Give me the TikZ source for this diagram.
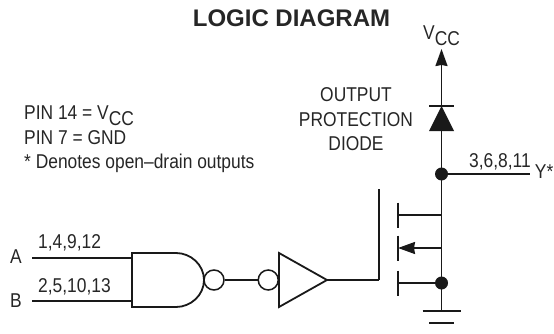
\documentclass[tikz,border=0pt]{standalone}
\usepackage{fontspec}
\setmainfont{Liberation Sans}
\newfontfamily\narrowfont[FakeStretch=0.87]{Liberation Sans}
\usetikzlibrary{positioning,arrows.meta}
\newcommand{\vcc}{V\raisebox{-6pt}{CC}}
\tikzset{
    wire/.style={line width=1.8pt,color=black!90},
    tip/.style={-{Stealth[length=17pt,width=12pt,inset=1pt]}},
    dot/.style={circle,fill=black!90,inner sep=0pt,minimum size=13pt},
    bubble/.style={circle,draw=black!90,line width=1.5pt,inner sep=0pt,minimum size=20pt},
    lbl/.style={font=\narrowfont\fontsize{20}{20}\selectfont,inner sep=0pt,text=black!85},
}
\begin{document}
\begin{tikzpicture}[x=1pt,y=1pt]
        \useasboundingbox (0,0) rectangle (554,333);
        % output side
        \coordinate (out_node) at (441.5,159);
        \coordinate [above = 125pt of out_node] (vcc_tip);
        \coordinate [above = 43pt of out_node] (diode_base);
        \coordinate [above = 68pt of out_node] (diode_bar);
        \coordinate [right = 88.5pt of out_node] (y_end);
        \coordinate [below = 41pt of out_node] (drain_in);
        \coordinate [below = 74pt of out_node] (body_in);
        \coordinate [below = 109pt of out_node] (src_node);
        \coordinate [below = 137pt of out_node] (gnd_top);
        \coordinate [below = 149pt of out_node] (gnd_low);
        \draw[wire,tip] (out_node) -- (vcc_tip);
        \draw[wire] ([xshift=-12.5pt]diode_bar) -- ([xshift=12.5pt]diode_bar);
        \fill[black!90] ([xshift=-12.5pt]diode_base) -- ([xshift=12.5pt]diode_base) -- (diode_bar) -- cycle;
        \draw[wire] (out_node) -- (y_end);
        \draw[wire] (out_node) -- (gnd_top);
        \node[dot] (out_dot) at (out_node) {};
        \node[dot] (src_dot) at (src_node) {};
        \draw[wire] ([xshift=-19pt]gnd_top) -- ([xshift=19pt]gnd_top);
        \draw[wire] ([xshift=-12.5pt]gnd_low) -- ([xshift=12.5pt]gnd_low);
        % transistor
        \coordinate [left = 43.5pt of drain_in] (drain_ch);
        \coordinate [left = 43.5pt of body_in] (body_ch);
        \coordinate [left = 43.5pt of src_node] (src_ch);
        \coordinate (gate_in) at (379,53);
        \coordinate [above = 91pt of gate_in] (gate_top);
        \draw[wire] ([yshift=12.5pt]drain_ch) -- ([yshift=-12.5pt]drain_ch);
        \draw[wire] ([yshift=12.5pt]body_ch) -- ([yshift=-12.5pt]body_ch);
        \draw[wire] ([yshift=12.5pt]src_ch) -- ([yshift=-12.5pt]src_ch);
        \draw[wire] (drain_ch) -- (drain_in);
        \draw[wire] (src_ch) -- (src_node);
        \draw[wire,tip] (body_in) -- (body_ch);
        \draw[wire] (gate_top) -- (gate_in);
        % gate and inverter
        \coordinate (nand_nw) at (132,80);
        \coordinate [below = 54pt of nand_nw] (nand_sw);
        \coordinate [right = 44pt of nand_nw] (nand_ne);
        \coordinate [right = 44pt of nand_sw] (nand_se);
        \coordinate (nand_out) at (204,53);
        \coordinate (inv_nw) at (279,80);
        \coordinate [below = 54pt of inv_nw] (inv_sw);
        \coordinate (inv_out) at (327,53);
        \coordinate (a_start) at (32,75);
        \coordinate (b_start) at (32,32);
        \coordinate (a_end) at (a_start -| nand_nw);
        \coordinate (b_end) at (b_start -| nand_nw);
        \draw[wire,line join=miter] (nand_ne) -- (nand_nw) -- (nand_sw) -- (nand_se)
            .. controls (191,26) and (204,38) .. (nand_out)
            .. controls (204,68) and (191,80) .. (nand_ne);
        \draw[wire,line join=miter] (inv_nw) -- (inv_out) -- (inv_sw) -- cycle;
        \node[bubble] (bub_a) at (214,53) {};
        \node[bubble,left = 0pt of inv_nw |- inv_out] (bub_b) {};
        \draw[wire] (a_start) -- (a_end);
        \draw[wire] (b_start) -- (b_end);
        \draw[wire] (bub_a) -- (bub_b);
        \draw[wire] (inv_out) -- (gate_in);
        % labels
        \node[font=\bfseries\fontsize{24}{24}\selectfont,inner sep=0pt,text=black!85,anchor=base] (title) at (291.5,307) {LOGIC DIAGRAM};
        \node[lbl,anchor=base west] (vcc_lbl) at (423,294) {\vcc};
        \node[lbl,anchor=base] (out_a) at (356,232) {OUTPUT};
        \node[lbl,anchor=base] (out_b) at (356,207) {PROTECTION};
        \node[lbl,anchor=base] (out_c) at (356,183) {DIODE};
        \node[lbl,anchor=base west] (pin_a) at (24,214) {PIN 14 = \vcc};
        \node[lbl,anchor=base west] (pin_b) at (24,189) {PIN 7 = GND};
        \node[lbl,anchor=base west] (pin_c) at (24,165) {* Denotes open–drain outputs};
        \node[lbl,anchor=base west] (y_pins) at (469,166) {3,6,8,11};
        \node[lbl,anchor=base east] (y_lbl) at (553.5,155) {Y*};
        \node[lbl,anchor=base west] (a_pins) at (38,85) {1,4,9,12};
        \node[lbl,anchor=base west] (b_pins) at (38,41) {2,5,10,13};
        \node[lbl,anchor=base west] (a_lbl) at (10,70) {A};
        \node[lbl,anchor=base west] (b_lbl) at (10,26) {B};
    \end{tikzpicture}
\end{document}
